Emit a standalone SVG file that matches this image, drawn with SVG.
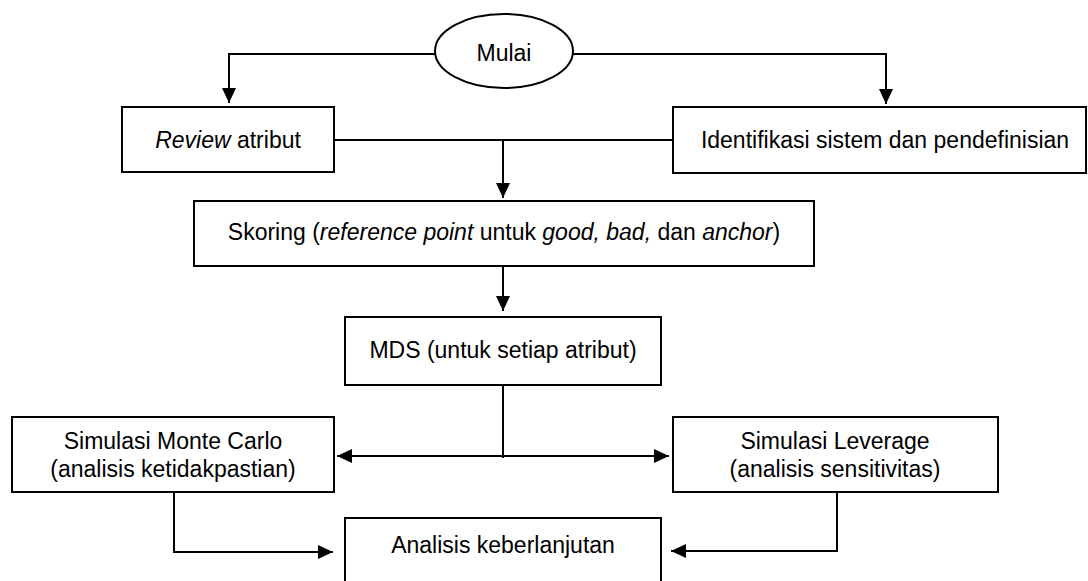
<svg xmlns="http://www.w3.org/2000/svg" width="1088" height="581" viewBox="0 0 1088 581">
<defs>
<style>
.box{fill:#fff;stroke:#000;stroke-width:2}
.ln{fill:none;stroke:#000;stroke-width:2}
text{font-family:"Liberation Sans",Arial,sans-serif;font-size:23px;fill:#000;text-anchor:middle}
.it{font-style:italic}
</style>
<marker id="ah" viewBox="0 0 15 14" refX="15" refY="7" markerWidth="15" markerHeight="14" markerUnits="userSpaceOnUse" orient="auto">
<path d="M0,0 L15,7 L0,14 Z" fill="#000"/>
</marker>
</defs>
<rect width="1088" height="581" fill="#fff"/>
<g id="connectors">
<path class="ln" d="M435,54 H229 V103" marker-end="url(#ah)"/>
<path class="ln" d="M573,54 H886 V104" marker-end="url(#ah)"/>
<path class="ln" d="M334,140 H673"/>
<path class="ln" d="M503,139 V198" marker-end="url(#ah)"/>
<path class="ln" d="M503,266 V311" marker-end="url(#ah)"/>
<path class="ln" d="M503,386 V458"/>
<path class="ln" d="M503,456 H337" marker-end="url(#ah)"/>
<path class="ln" d="M503,456 H669" marker-end="url(#ah)"/>
<path class="ln" d="M174,492 V552 H333" marker-end="url(#ah)"/>
<path class="ln" d="M837,492 V551 H671" marker-end="url(#ah)"/>
</g>
<g id="mulai">
<ellipse class="box" cx="504" cy="51" rx="69" ry="37"/>
<text x="504" y="61">Mulai</text>
</g>
<g id="review">
<rect class="box" x="122" y="107" width="212" height="65"/>
<text x="228" y="148"><tspan class="it">Review</tspan> atribut</text>
</g>
<g id="identifikasi">
<rect class="box" x="673" y="107" width="413" height="66"/>
<text x="885" y="148">Identifikasi sistem dan pendefinisian</text>
</g>
<g id="skoring">
<rect class="box" x="194" y="201" width="620" height="65"/>
<text x="504" y="240">Skoring (<tspan class="it">reference point</tspan> untuk <tspan class="it">good, bad,</tspan> dan <tspan class="it">anchor</tspan>)</text>
</g>
<g id="mds">
<rect class="box" x="345" y="317" width="316" height="68"/>
<text x="503" y="358">MDS (untuk setiap atribut)</text>
</g>
<g id="montecarlo">
<rect class="box" x="12" y="417" width="322" height="75"/>
<text x="173" y="449">Simulasi Monte Carlo</text>
<text x="173" y="477">(analisis ketidakpastian)</text>
</g>
<g id="leverage">
<rect class="box" x="673" y="417" width="325" height="75"/>
<text x="835" y="449">Simulasi Leverage</text>
<text x="835" y="477">(analisis sensitivitas)</text>
</g>
<g id="analisis">
<rect class="box" x="345" y="518" width="316" height="70"/>
<text x="503" y="553">Analisis keberlanjutan</text>
</g>
</svg>
